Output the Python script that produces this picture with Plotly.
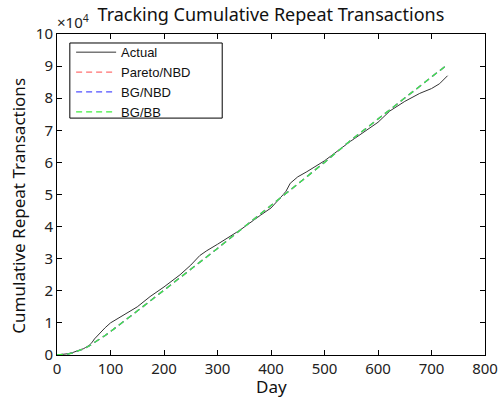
import plotly.graph_objects as go

# Data (cumulative repeat transactions)
actual_days = [0, 10, 20, 30, 40, 50, 60, 65, 70, 80, 90, 100, 120, 150, 174, 200, 230, 250, 267, 280,
               300, 342, 380, 400, 423, 428, 436, 450, 467, 500, 548, 600, 622, 650, 678, 700, 715, 730]
actual_vals = [0, 100, 400, 800, 1300, 2000, 3000, 3800, 5000, 6800, 8500, 10000, 12000, 15000, 18200,
               21200, 25000, 28000, 31000, 32500, 34500, 38900, 43500, 45800, 50000, 51000, 53500, 55500,
               57100, 60500, 66500, 72500, 76000, 79000, 81500, 83000, 84500, 87000]

model_days = [0, 10, 20, 30, 40, 50, 60, 70, 80, 90, 100, 150, 200, 250, 300, 350, 400, 450, 500, 550,
              600, 650, 700, 730]
pareto_vals = [0, 100, 300, 700, 1200, 1900, 2800, 3800, 5000, 6100, 7300, 13700, 20100, 26700, 33200,
               39800, 46500, 53300, 60000, 67000, 73500, 80200, 86600, 90500]
bgnbd_vals = [0, 100, 300, 700, 1200, 1900, 2800, 3800, 5000, 6100, 7300, 13700, 20100, 26700, 33200,
              39800, 46500, 53300, 60000, 67000, 73500, 80200, 86600, 90500]
bgbb_vals = [0, 100, 300, 700, 1200, 1900, 2800, 3800, 5000, 6100, 7300, 13700, 20100, 26700, 33200,
             39800, 46500, 53300, 60000, 67000, 73500, 80200, 86600, 90500]

x_ticks = [0, 100, 200, 300, 400, 500, 600, 700, 800]
y_ticks = [0, 10000, 20000, 30000, 40000, 50000, 60000, 70000, 80000, 90000, 100000]
y_tick_labels = ["0", "1", "2", "3", "4", "5", "6", "7", "8", "9", "10"]

FONT = "Noto Sans, Open Sans, sans-serif"

fig = go.Figure()
fig.add_trace(go.Scatter(x=actual_days, y=actual_vals, mode="lines", name="Actual",
                         line=dict(color="#333333", width=1)))
fig.add_trace(go.Scatter(x=model_days, y=pareto_vals, mode="lines", name="Pareto/NBD",
                         line=dict(color="#ff7070", width=1.3, dash="6px,4px")))
fig.add_trace(go.Scatter(x=model_days, y=bgnbd_vals, mode="lines", name="BG/NBD",
                         line=dict(color="#5050ff", width=1.3, dash="6px,4px")))
fig.add_trace(go.Scatter(x=model_days, y=bgbb_vals, mode="lines", name="BG/BB",
                         line=dict(color="#40f040", width=1.3, dash="6px,4px")))

axis_font = dict(family=FONT, size=15, color="#222222")
fig.update_layout(
    width=498, height=398,
    margin=dict(l=57, r=13, t=34, b=43, autoexpand=False),
    paper_bgcolor="white", plot_bgcolor="white",
    title=dict(text="Tracking Cumulative Repeat Transactions", x=0.544, xanchor="center",
               y=0.962, yanchor="middle",
               font=dict(family=FONT, size=18, color="#111111")),
    xaxis=dict(range=[0, 800], tickvals=x_ticks, ticks="inside", ticklen=5, tickcolor="black",
               showline=True, linecolor="black", linewidth=1, mirror="ticks", showgrid=False,
               zeroline=False, tickfont=axis_font, automargin=False, ticklabeloverflow="allow"),
    yaxis=dict(range=[0, 100000], tickvals=y_ticks, ticktext=y_tick_labels, ticks="inside", ticklen=5,
               tickcolor="black", showline=True, linecolor="black", linewidth=1, mirror="ticks",
               showgrid=False, zeroline=False, tickfont=axis_font, automargin=False,
               ticklabeloverflow="allow"),
    legend=dict(x=0.033, y=0.99, xanchor="left", yanchor="top", bgcolor="rgba(0,0,0,0)",
                borderwidth=0,
                font=dict(family="Liberation Sans, Arial, sans-serif", size=13, color="#111111"),
                tracegroupgap=0, itemwidth=40),
    showlegend=True,
)
fig.add_shape(type="rect", xref="paper", yref="paper", x0=0.030, x1=0.386, y0=0.738, y1=0.972,
              line=dict(color="black", width=1), fillcolor="white", layer="above")
fig.add_annotation(text="×10<sup>4</sup>", xref="paper", yref="paper", x=-0.004, y=1.0,
                   xanchor="left", yanchor="bottom", showarrow=False,
                   font=dict(family=FONT, size=15, color="#222222"))
fig.add_annotation(text="Day", xref="paper", yref="paper", x=0.5, y=-0.097,
                   xanchor="center", yanchor="middle", showarrow=False,
                   font=dict(family=FONT, size=17, color="#111111"))
fig.add_annotation(text="Cumulative Repeat Transactions", xref="paper", yref="paper", x=-0.089, y=0.465,
                   xanchor="center", yanchor="middle", textangle=-90, showarrow=False,
                   font=dict(family=FONT, size=17, color="#111111"))

fig.write_html("out.html", config={"displayModeBar": False},
               post_script="document.body.style.margin='0';")
